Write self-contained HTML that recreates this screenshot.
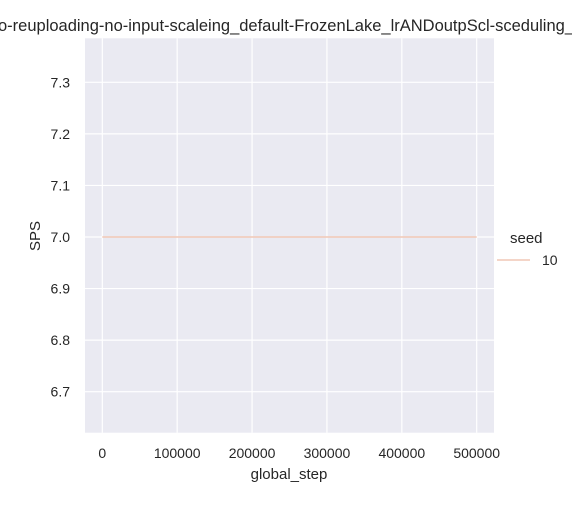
<!DOCTYPE html>
<html><head><meta charset="utf-8"><style>
body{margin:0;background:#fff;font-family:"Liberation Sans","DejaVu Sans",sans-serif;}
svg text{font-family:"Liberation Sans","DejaVu Sans",sans-serif;fill:#262626;}
</style></head><body>
<svg id="chart" width="572" height="500">
<text x="286" y="31" text-anchor="middle" font-size="16.5">o-reuploading-no-input-scaleing_default-FrozenLake_lrANDoutpScl-sceduling_</text>
<rect x="85" y="38.3" width="409" height="394.4" fill="#eaeaf2"/>
<g id="grid"></g>
<g id="ticks"></g>
<g id="series"></g>
<text x="289" y="479" text-anchor="middle" font-size="15">global_step</text>
<text transform="translate(40,236) rotate(-90)" text-anchor="middle" font-size="15">SPS</text>
<g>
<text x="510" y="243" font-size="15">seed</text>
<line x1="497" y1="260" x2="530" y2="260" stroke="#f0c7b5" stroke-width="1.5"/>
<text x="542" y="265" font-size="14">10</text>
</g>
</svg>
<script>
const xTicks=[0,100000,200000,300000,400000,500000];
const yTicks=[6.7,6.8,6.9,7.0,7.1,7.2,7.3];
const steps=[0,500000];
const sps=[7.0,7.0];
const X0=85,X1=494,Y0=38.3,Y1=432.7;
const xMin=-23100,xMax=523100,yMin=6.6205,yMax=7.3853;
const sx=v=>X0+(v-xMin)/(xMax-xMin)*(X1-X0);
const sy=v=>Y1-(v-yMin)/(yMax-yMin)*(Y1-Y0);
const NS="http://www.w3.org/2000/svg";
const g=document.getElementById('grid'),t=document.getElementById('ticks'),s=document.getElementById('series');
function mk(tag,attrs,parent){const e=document.createElementNS(NS,tag);for(const k in attrs)e.setAttribute(k,attrs[k]);parent.appendChild(e);return e;}
xTicks.forEach(v=>{
 const l=mk('line',{x1:sx(v),x2:sx(v),y1:Y0,y2:Y1,stroke:'#fff','stroke-width':1.2},g);
 
 
 const tx=mk('text',{x:sx(v),y:458,'text-anchor':'middle','font-size':14},t);tx.textContent=v;
 
 
});
yTicks.forEach(v=>{
 const l=mk('line',{x1:X0,x2:X1,y1:sy(v),y2:sy(v),stroke:'#fff','stroke-width':1.2},g);
 
 
 const tx=mk('text',{x:70,y:sy(v)+5,'text-anchor':'end','font-size':14},t);tx.textContent=v.toFixed(1);
 
 
});
const p=mk('polyline',{points:steps.map((x,i)=>sx(x)+','+sy(sps[i])).join(' '),fill:'none',stroke:'#f0c7b5','stroke-width':1.5},s);


</script>
</body></html>
